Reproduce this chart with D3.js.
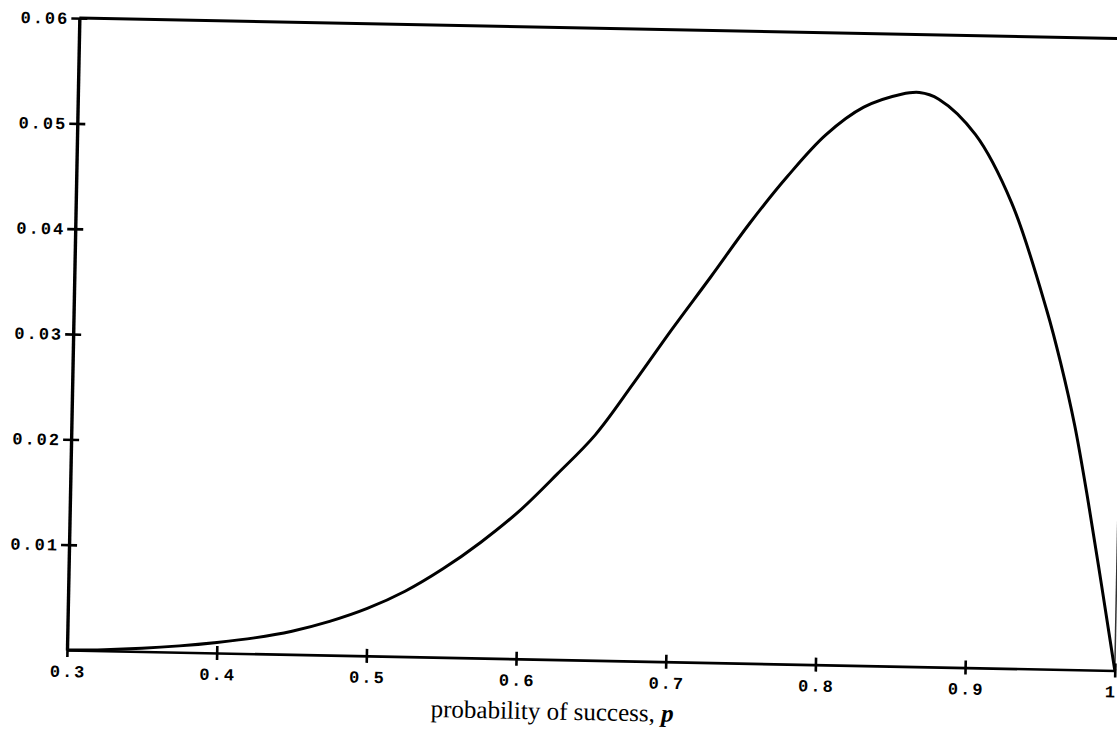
<!DOCTYPE html>
<html><head><meta charset="utf-8">
<script src="https://cdn.jsdelivr.net/npm/d3@7"></script>
<style>html,body{margin:0;padding:0;background:#fff;overflow:hidden}</style>
</head><body><svg id="c" width="1117" height="736"></svg>
<script>
// Data
const pValues = [0.300,0.325,0.350,0.375,0.400,0.425,0.450,0.475,0.500,0.525,0.550,0.575,0.600,0.625,0.650,0.675,0.700,0.725,0.750,0.775,0.800,0.825,0.850,0.862,0.875,0.900,0.925,0.950,0.960,0.970,0.980,0.990,1.000];
const densityValues = [0.0000,0.0001,0.0003,0.0006,0.0010,0.0015,0.0022,0.0032,0.0045,0.0062,0.0084,0.0110,0.0140,0.0176,0.0214,0.0264,0.0316,0.0366,0.0417,0.0463,0.0503,0.0530,0.0543,0.0545,0.0539,0.0506,0.0442,0.0340,0.0290,0.0232,0.0160,0.0081,0.0000];
const xTickValues = [0.3,0.4,0.5,0.6,0.7,0.8,0.9,1.0];
const xTickLabels = ["0.3","0.4","0.5","0.6","0.7","0.8","0.9","1"];
const yTickValues = [0.01,0.02,0.03,0.04,0.05,0.06];
const yTickLabels = ["0.01","0.02","0.03","0.04","0.05","0.06"];
const xTitleText = "probability of success, ";
const xTitleVar = "p";

const ox = 67, oy = 650, plotW = 1048, plotH = 632, angle = 1.12;
const x = d3.scaleLinear().domain([0.3, 1.0]).range([ox, ox + plotW]);
const y = d3.scaleLinear().domain([0, 0.06]).range([oy, oy - plotH]);

const svg = d3.select('#c');
const g = svg.append('g').attr('transform', `rotate(${angle},${ox},${oy})`);

const monoFont = "'Liberation Mono','DejaVu Sans Mono',monospace";

// top frame line
g.append('line')
  .attr('x1', x(0.3)).attr('y1', y(0.06))
  .attr('x2', x(1.0) + 20).attr('y2', y(0.06))
  .attr('stroke', '#000').attr('stroke-width', 3);
// right frame line
g.append('line')
  .attr('x1', x(1.0)).attr('y1', y(0))
  .attr('x2', x(1.0)).attr('y2', y(0.06))
  .attr('stroke', '#333').attr('stroke-width', 1.5);

// x axis
const xa = g.append('g').attr('transform', `translate(0,${oy})`)
  .call(d3.axisBottom(x).tickValues(xTickValues)
    .tickFormat((d, i) => xTickLabels[i]).tickSize(7).tickSizeOuter(0).tickPadding(8));
xa.select('.domain').attr('stroke', '#000').attr('stroke-width', 2.6);
xa.selectAll('.tick line').attr('y1', -7).attr('y2', 7).attr('stroke', '#000').attr('stroke-width', 2.6);
xa.selectAll('.tick text').attr('font-family', monoFont).attr('font-size', 17)
  .attr('font-weight', 'bold').attr('letter-spacing', 2).attr('fill', '#000')
  .attr('dx', (d, i) => i === xTickValues.length - 1 ? -4 : 1);

// y axis
const ya = g.append('g').attr('transform', `translate(${ox},0)`)
  .call(d3.axisLeft(y).tickValues(yTickValues)
    .tickFormat((d, i) => yTickLabels[i]).tickSize(8).tickSizeOuter(0).tickPadding(2));
ya.select('.domain').attr('stroke', '#000').attr('stroke-width', 3.4);
ya.selectAll('.tick line').attr('x1', -8).attr('x2', 8).attr('stroke', '#000').attr('stroke-width', 2.6);
ya.selectAll('.tick text').attr('font-family', monoFont).attr('font-size', 17)
  .attr('font-weight', 'bold').attr('letter-spacing', 2).attr('fill', '#000');

// curve
const pts = pValues.map((p, i) => [p, densityValues[i]]);
g.append('path').datum(pts)
  .attr('fill', 'none').attr('stroke', '#000').attr('stroke-width', 3)
  .attr('stroke-linejoin', 'round')
  .attr('d', d3.line().x(d => x(d[0])).y(d => y(d[1])).curve(d3.curveCatmullRom.alpha(0.5)));

// x axis title
const t = g.append('text')
  .attr('x', ox + plotW * 0.464).attr('y', oy + 60)
  .attr('text-anchor', 'middle')
  .attr('font-family', "'Liberation Serif','DejaVu Serif',serif")
  .attr('font-size', 25).attr('fill', '#000');
t.append('tspan').text(xTitleText);
t.append('tspan').attr('font-style', 'italic').attr('font-weight', 'bold').text(xTitleVar);
</script>
</body></html>
